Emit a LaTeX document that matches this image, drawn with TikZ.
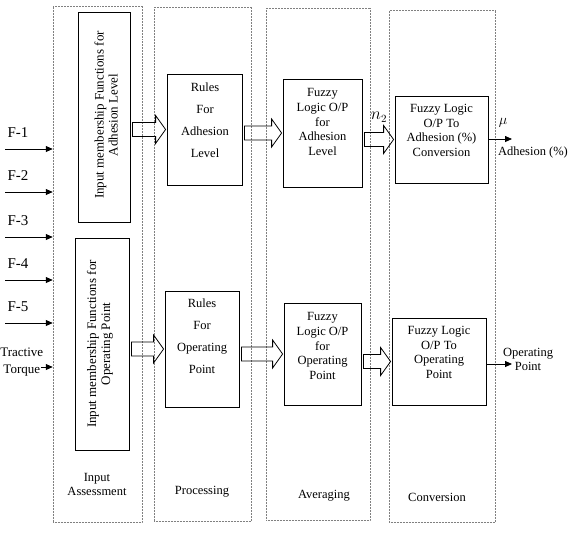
\documentclass[tikz,border=0pt]{standalone}
\usepackage{fontspec}
\setmainfont{Liberation Serif}
\usetikzlibrary{positioning, calc, arrows.meta}

\begin{document}
\begin{tikzpicture}[x=1pt, y=-1pt,
    stage/.style={draw=gray, densely dotted, line width=0.5pt, inner sep=0pt},
    blk/.style={draw, line width=0.8pt, inner sep=0pt},
    txt/.style={align=center, font=\fontsize{12.5}{14.7}\selectfont, inner sep=0pt},
    rtxt/.style={align=center, font=\fontsize{12.5}{22}\selectfont, inner sep=0pt},
    mtxt/.style={align=center, rotate=90, font=\fontsize{13}{14}\selectfont, inner sep=0pt},
    lbl/.style={align=center, font=\fontsize{15}{18}\selectfont, inner sep=0pt},
    sym/.style={inner sep=0pt, font=\fontsize{16}{18}\selectfont},
    fat/.style={line width=0.8pt, to path={let \p1=(\tikztostart), \p2=(\tikztotarget) in
        (\x1+2pt,\y1+7pt) -- (\x2-11pt,\y1+7pt) -- (\x2-11pt,\y1+14pt) -- (\x2-1pt,\y1)
        -- (\x2-11pt,\y1-14pt) -- (\x2-11pt,\y1-7pt) -- (\x1+2pt,\y1-7pt) -- cycle}},
    sig/.style={-{Triangle[length=7pt,width=6pt]}, line width=0.8pt}]
\useasboundingbox (0,0) rectangle (569,541);

\node[stage, minimum width=89, minimum height=516] (inp) at (97.5,264) {};
\node[stage, minimum width=97, minimum height=514] (proc) at (202.5,264) {};
\node[stage, minimum width=104, minimum height=512] (avg) at (318,264) {};
\node[stage, minimum width=106, minimum height=512] (cnv) at (442,266) {};

\node[blk, minimum width=52, minimum height=210] (mfA) at (104,117) {};
\node[blk, minimum width=54, minimum height=212] (mfO) at (102,344) {};
\node[blk, minimum width=75, minimum height=111] (rulA) at (204.5,129.5) {};
\node[blk, minimum width=74, minimum height=116] (rulO) at (202,349) {};
\node[blk, minimum width=79, minimum height=108] (fzA) at (322.5,133) {};
\node[blk, minimum width=77, minimum height=102] (fzO) at (322.5,354) {};
\node[blk, minimum width=93, minimum height=87] (cvA) at (441.5,139.5) {};
\node[blk, minimum width=94, minimum height=87] (cvO) at (439,361.5) {};

\node[mtxt] (mfAt) at (106,115) {Input membership Functions for\\Adhesion Level};
\node[mtxt] (mfOt) at (100,344) {Input membership Functions for\\Operating Point};
\node[rtxt] (rulAt) at (205,120) {Rules\\For\\Adhesion\\Level};
\node[rtxt] (rulOt) at (202,336) {Rules\\For\\Operating\\Point};
\node[txt] (fzAt) at (322.5,122) {Fuzzy\\Logic O/P\\for\\Adhesion\\Level};
\node[txt] (fzOt) at (322.5,346) {Fuzzy\\Logic O/P\\for\\Operating\\Point};
\node[txt] (cvAt) at (441.5,130.5) {Fuzzy Logic\\O/P To\\Adhesion (\%)\\Conversion};
\node[txt] (cvOt) at (439,352.5) {Fuzzy Logic\\O/P To\\Operating\\Point};

\draw[fat] (mfA.east |- rulA.west) to (rulA.west);
\draw[fat] (mfO.east |- rulO.west) to (rulO.west);
\draw[fat] (rulA.east |- fzA.west) to (fzA.west);
\draw[fat] (rulO.east |- fzO.west) to (fzO.west);
\draw[fat] (fzA.east |- cvA.west) to (cvA.west);
\draw[fat] (fzO.east |- cvO.west) to (cvO.west);
\node[sym] (n2) at (379,117) {$n_2$};

\foreach \i/\y in {1/149, 2/192, 3/237, 4/280, 5/323}{
  \coordinate (in\i) at (5,\y);
  \node[lbl] (f\i) at (18,\y-16) {F-\i};
  \draw[sig] (in\i) -- (inp.west |- in\i);
}
\node[lbl, font=\fontsize{13}{17}\selectfont] (tq) at (21.8,362) {Tractive\\Torque};
\coordinate (in6) at (41,367);
\draw[sig] (in6) -- (inp.west |- in6);

\coordinate (adh) at (512,139);
\draw[sig] (cvA.east |- adh) -- (adh);
\node[sym, font=\fontsize{14}{16}\selectfont] (mu) at (503,123) {$\mu$};
\node[txt] (adhl) at (533,152) {Adhesion (\%)};
\coordinate (opp) at (512,364);
\draw[sig] (cvO.east |- opp) -- (opp);
\node[txt] (oppl) at (528,359.5) {Operating\\Point};

\node[txt, font=\fontsize{12.5}{14}\selectfont] (inpl) at (97,484) {Input\\Assessment};
\node[txt] (procl) at (202,492) {Processing};
\node[txt] (avgl) at (324,496) {Averaging};
\node[txt] (cnvl) at (437,497) {Conversion};
\end{tikzpicture}
\end{document}
